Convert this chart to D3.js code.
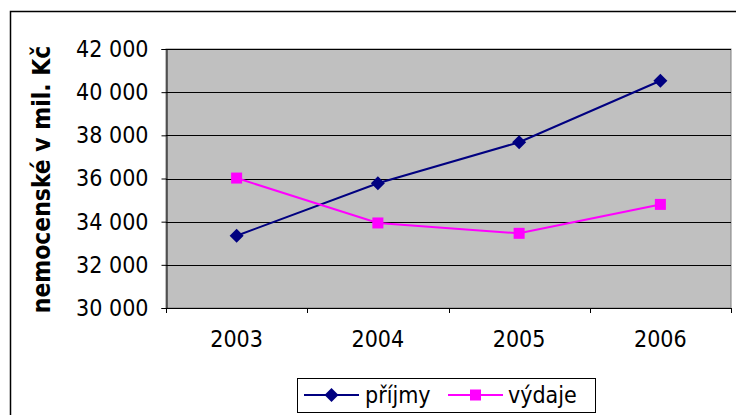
<!DOCTYPE html>
<html>
<head>
<meta charset="utf-8">
<script src="https://cdn.jsdelivr.net/npm/d3@7"></script>
<style>
  html, body { margin: 0; padding: 0; background: #fff; overflow: hidden; }
  svg { display: block; }
  svg text { font-family: "DejaVu Sans Condensed", "DejaVu Sans", Verdana, sans-serif; font-stretch: condensed; }
</style>
</head>
<body>
<svg id="chart" width="736" height="415"></svg>
<script>
// Years on the category axis
const years = ["2003", "2004", "2005", "2006"];
// Sickness insurance income and expenditure, mil. Kč
const prijmy = [33350, 35780, 37680, 40530];
const vydaje = [36020, 33940, 33460, 34800];
// Value axis ticks
const yTicks = [30000, 32000, 34000, 36000, 38000, 40000, 42000];
const seriesNames = ["příjmy", "výdaje"];

const svg = d3.select("#chart");
const plot = { left: 166, right: 731, top: 49, bottom: 308 };
const fontSize = 23;

const x = d3.scaleBand().domain(years).range([plot.left, plot.right]).padding(0);
const y = d3.scaleLinear().domain([30000, 42000]).range([plot.bottom, plot.top]);

const fmt = d3.formatLocale({ decimal: ",", thousands: " ", grouping: [3], currency: ["", " Kč"] }).format(",d");

// Outer chart frame (runs off the right and bottom edges)
svg.append("rect")
  .attr("x", 10.5).attr("y", 11.5)
  .attr("width", 800).attr("height", 500)
  .attr("fill", "none").attr("stroke", "#000").attr("stroke-width", 1.5);

// Plot area
svg.append("rect")
  .attr("x", plot.left).attr("y", plot.top)
  .attr("width", plot.right - plot.left).attr("height", plot.bottom - plot.top)
  .attr("fill", "#c0c0c0").attr("stroke", "#808080").attr("stroke-width", 1);

// Horizontal gridlines
svg.append("g")
  .selectAll("line")
  .data(yTicks.filter(d => d !== 30000))
  .join("line")
  .attr("x1", plot.left).attr("x2", plot.right)
  .attr("y1", d => Math.round(y(d)) + 0.5).attr("y2", d => Math.round(y(d)) + 0.5)
  .attr("stroke", "#000").attr("stroke-width", 1);

// Value axis
const yAxis = svg.append("g")
  .attr("transform", `translate(${plot.left + 0.5},0)`)
  .call(d3.axisLeft(y).tickValues(yTicks).tickFormat(fmt).tickSize(5).tickPadding(13));
yAxis.select(".domain").attr("stroke", "#000");
yAxis.selectAll(".tick line").attr("stroke", "#000");
yAxis.selectAll("text").attr("font-size", fontSize).attr("fill", "#000")
  .attr("font-family", null);

// Category axis: line, boundary ticks and centred labels
svg.append("line")
  .attr("x1", plot.left).attr("x2", plot.right)
  .attr("y1", plot.bottom + 0.5).attr("y2", plot.bottom + 0.5)
  .attr("stroke", "#000");
const edges = years.map(d => x(d)).concat([x(years[years.length - 1]) + x.bandwidth()]);
svg.append("g")
  .selectAll("line")
  .data(edges)
  .join("line")
  .attr("x1", d => Math.round(d) + 0.5).attr("x2", d => Math.round(d) + 0.5)
  .attr("y1", plot.bottom).attr("y2", plot.bottom + 5)
  .attr("stroke", "#000");
svg.append("g")
  .selectAll("text")
  .data(years)
  .join("text")
  .attr("x", d => x(d) + x.bandwidth() / 2)
  .attr("y", 347)
  .attr("text-anchor", "middle")
  .attr("font-size", fontSize)
  .text(d => d);

// Axis title
svg.append("text")
  .attr("transform", `translate(50,${(plot.top + plot.bottom) / 2 + 1}) rotate(-90)`)
  .attr("text-anchor", "middle")
  .attr("font-size", 24.4)
  .attr("font-weight", "bold")
  .text("nemocenské v mil. Kč");

// Series
const cx = d => x(d) + x.bandwidth() / 2;
const line = d3.line().x(d => cx(d.year)).y(d => y(d.value));
const diamond = () => "M0,-7L7,0L0,7L-7,0Z";
const square = () => "M-5.5,-5.5h11v11h-11Z";
const series = [
  { name: seriesNames[0], color: "#000080", marker: diamond, values: prijmy },
  { name: seriesNames[1], color: "#ff00ff", marker: square, values: vydaje }
];

series.forEach(s => {
  const pts = years.map((yr, i) => ({ year: yr, value: s.values[i] }));
  svg.append("path")
    .datum(pts)
    .attr("d", line)
    .attr("fill", "none")
    .attr("stroke", s.color)
    .attr("stroke-width", 2);
  svg.append("g")
    .selectAll("path")
    .data(pts)
    .join("path")
    .attr("transform", d => `translate(${cx(d.year)},${y(d.value)})`)
    .attr("d", s.marker())
    .attr("fill", s.color);
});

// Legend
const legend = svg.append("g");
legend.append("rect")
  .attr("x", 297.5).attr("y", 378.5).attr("width", 298).attr("height", 34)
  .attr("fill", "#fff").attr("stroke", "#000").attr("stroke-width", 1);
const legendItems = [
  { s: series[0], x0: 304, x1: 359, tx: 365 },
  { s: series[1], x0: 448, x1: 503, tx: 508 }
];
legendItems.forEach(it => {
  const ly = 395;
  legend.append("line")
    .attr("x1", it.x0).attr("x2", it.x1).attr("y1", ly).attr("y2", ly)
    .attr("stroke", it.s.color).attr("stroke-width", 2);
  legend.append("path")
    .attr("transform", `translate(${(it.x0 + it.x1) / 2},${ly})`)
    .attr("d", it.s.marker())
    .attr("fill", it.s.color);
  legend.append("text")
    .attr("x", it.tx).attr("y", ly + 8)
    .attr("font-size", fontSize)
    .text(it.s.name);
});
</script>
</body>
</html>
